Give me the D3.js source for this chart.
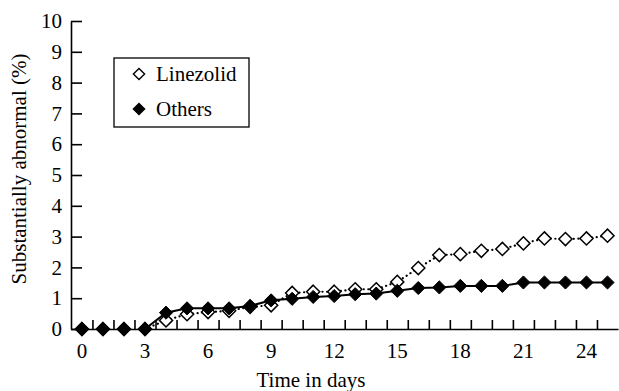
<!DOCTYPE html>
<html>
<head>
<meta charset="utf-8">
<title>Substantially abnormal over time</title>
<style>
  body { margin: 0; background: #fff; }
  svg { display: block; }
  .axis path, .axis line { stroke: #000; stroke-width: 1.6; fill: none; }
</style>
<script src="https://d3js.org/d3.v7.min.js"></script>
</head>
<body>
<script>
  // days 0..25
  var days = d3.range(0, 26);
  var linezolid = [0, 0, 0, 0, 0.28, 0.48, 0.55, 0.59, 0.72, 0.77, 1.17, 1.21, 1.21,
                   1.29, 1.29, 1.53, 1.98, 2.40, 2.43, 2.54, 2.60, 2.78, 2.94, 2.92, 2.94, 3.03];
  var others = [0, 0, 0, 0, 0.53, 0.67, 0.67, 0.67, 0.75, 0.93, 0.98, 1.04, 1.07,
                1.13, 1.15, 1.24, 1.33, 1.35, 1.40, 1.40, 1.40, 1.51, 1.51, 1.51, 1.51, 1.51];
  var xTickLabels = [0, 3, 6, 9, 12, 15, 18, 21, 24];
  var yTicks = d3.range(0, 11);
  var seriesNames = ["Linezolid", "Others"];

  var FONT = "'Liberation Serif', 'Times New Roman', serif";
  var FS = "21px";
  var W = 619, H = 391;
  var svg = d3.select("body").append("svg").attr("width", W).attr("height", H);

  var x = d3.scaleLinear().domain([-0.52, 25.5]).range([71, 618]);
  var y = d3.scaleLinear().domain([0, 10]).range([329, 21]);

  // y axis, ticks pointing inward
  var yAxis = svg.append("g").attr("class", "axis")
    .attr("transform", "translate(" + x(-0.52) + ",0)")
    .call(d3.axisLeft(y).tickValues(yTicks).tickSizeInner(-11).tickSizeOuter(0).tickPadding(9));
  yAxis.selectAll("text").style("font-family", FONT).style("font-size", FS).attr("fill", "#000");

  // x axis: ticks between days, labels every 3 days
  var xAxisG = svg.append("g").attr("class", "axis")
    .attr("transform", "translate(0," + y(0) + ")");
  xAxisG.call(d3.axisBottom(x).tickValues(d3.range(0.5, 25.5, 1))
    .tickSizeInner(-9).tickSizeOuter(0).tickFormat(""));
  xAxisG.selectAll(".lbl").data(xTickLabels).enter().append("text")
    .attr("class", "lbl")
    .attr("x", function (d) { return x(d); })
    .attr("y", 29)
    .attr("fill", "#000")
    .attr("text-anchor", "middle")
    .style("font-family", FONT).style("font-size", FS)
    .text(function (d) { return d; });

  // axis titles
  svg.append("text").attr("x", 311).attr("y", 387).attr("text-anchor", "middle")
    .style("font-family", FONT).style("font-size", FS).text("Time in days");
  svg.append("text").attr("transform", "translate(26,169) rotate(-90)")
    .attr("text-anchor", "middle")
    .style("font-family", FONT).style("font-size", FS)
    .text("Substantially abnormal (%)");

  var lzData = days.map(function (d, i) { return { d: d, v: linezolid[i] }; });
  var otData = days.map(function (d, i) { return { d: d, v: others[i] }; });

  var line = d3.line().x(function (p) { return x(p.d); }).y(function (p) { return y(p.v); });

  svg.append("path").datum(lzData.slice(3))
    .attr("d", line).attr("fill", "none").attr("stroke", "#000")
    .attr("stroke-width", 2.2).attr("stroke-dasharray", "0.1 4.5").attr("stroke-linecap", "round");
  svg.append("path").datum(otData.slice(3))
    .attr("d", line).attr("fill", "none").attr("stroke", "#000").attr("stroke-width", 2);

  var diamond = d3.symbol().type(d3.symbolDiamond2).size(110);

  svg.selectAll(".lz").data(lzData).enter().append("path")
    .attr("class", "lz")
    .attr("d", diamond)
    .attr("transform", function (p) { return "translate(" + x(p.d) + "," + y(p.v) + ")"; })
    .attr("fill", "#fff").attr("stroke", "#000").attr("stroke-width", 1.5);

  svg.selectAll(".ot").data(otData).enter().append("path")
    .attr("class", "ot")
    .attr("d", diamond)
    .attr("transform", function (p) { return "translate(" + x(p.d) + "," + y(p.v) + ")"; })
    .attr("fill", "#000").attr("stroke", "#000").attr("stroke-width", 1);

  // legend
  var leg = svg.append("g");
  leg.append("rect").attr("x", 114).attr("y", 58).attr("width", 135).attr("height", 69)
    .attr("fill", "#fff").attr("stroke", "#000").attr("stroke-width", 1.3);
  seriesNames.forEach(function (name, i) {
    var cy = 74 + i * 35;
    leg.append("path").attr("d", d3.symbol().type(d3.symbolDiamond2).size(80))
      .attr("transform", "translate(139," + cy + ")")
      .attr("fill", i === 0 ? "#fff" : "#000").attr("stroke", "#000").attr("stroke-width", 1.4);
    leg.append("text").attr("x", 156).attr("y", cy + 7)
      .style("font-family", FONT).style("font-size", FS).text(name);
  });
</script>
</body>
</html>
